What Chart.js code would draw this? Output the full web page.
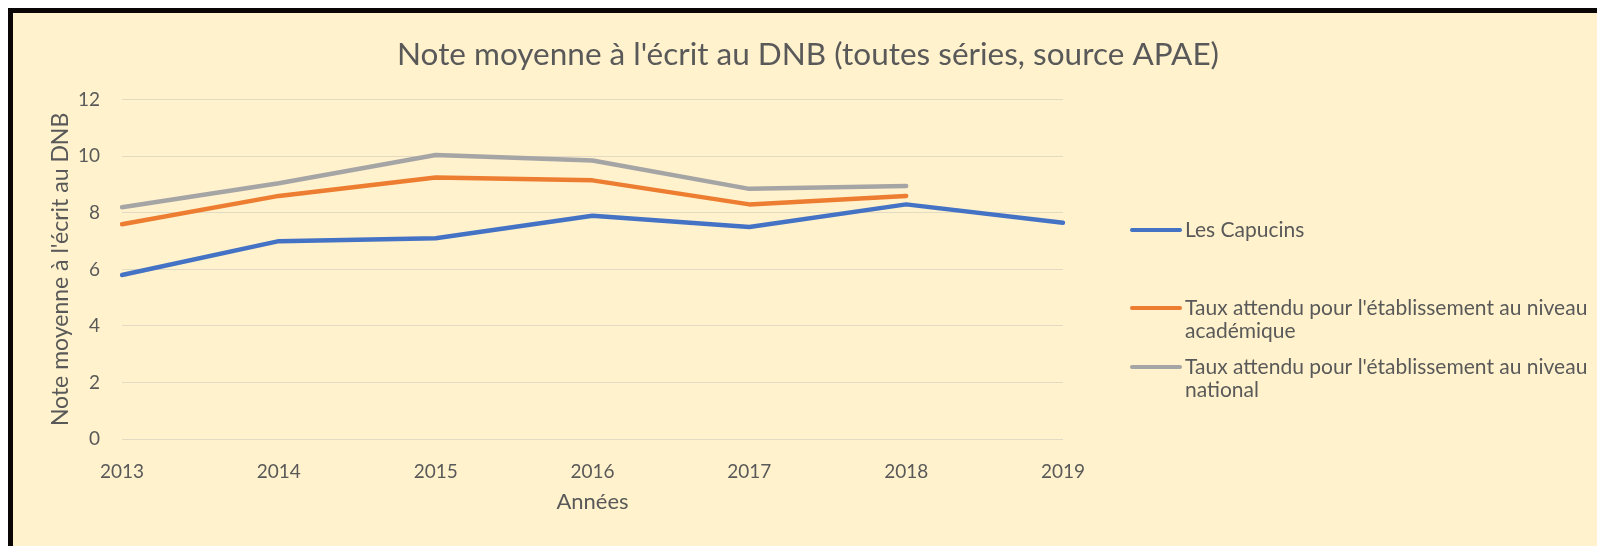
<!DOCTYPE html>
<html>
<head>
<meta charset="utf-8">
<script src="https://cdn.jsdelivr.net/npm/chart.js@4/dist/chart.umd.min.js"></script>
<style>
html, body { margin: 0; padding: 0; background: #fff; overflow: hidden; }
#frame {
    position: absolute; left: 8px; top: 8px;
    width: 1584px; height: 533px;
    border-top: 5px solid #0b0606; border-left: 5px solid #0b0606;
    background: #fff2cc;
    overflow: hidden;
}
canvas { display: block; }
</style>
</head>
<body>
<div id="frame"><canvas id="chart" width="1584" height="533"></canvas></div>
<script>
var years = ["2013", "2014", "2015", "2016", "2017", "2018", "2019"];
var capucins = [5.8, 7.0, 7.1, 7.9, 7.5, 8.3, 7.65];
var academique = [7.6, 8.6, 9.25, 9.15, 8.3, 8.6, null];
var national = [8.2, 9.05, 10.05, 9.85, 8.85, 8.95, null];
var yTicks = [0, 2, 4, 6, 8, 10, 12];

var textColor = '#595959';
Chart.defaults.font.family = 'Lato';
Chart.defaults.color = textColor;

// legend drawn at the right, with wrapped labels like the original
var sideLegend = {
    id: 'sideLegend',
    afterDraw: function(chart, args, opts) {
        var ctx = chart.ctx;
        var x0 = chart.chartArea.right + opts.gap;
        var tx = x0 + opts.lineLen + 5;
        var maxW = chart.width - tx;
        ctx.save();
        ctx.font = opts.size + 'px Lato';
        ctx.textBaseline = 'middle';
        ctx.fillStyle = textColor;
        chart.data.datasets.forEach(function(ds, i) {
            var y = opts.rows[i];
            ctx.strokeStyle = ds.borderColor;
            ctx.lineWidth = 4;
            ctx.lineCap = 'round';
            ctx.beginPath();
            ctx.moveTo(x0, y);
            ctx.lineTo(x0 + opts.lineLen, y);
            ctx.stroke();
            var words = ds.label.split(' ');
            var line = '';
            var lines = [];
            words.forEach(function(w) {
                var t = line ? line + ' ' + w : w;
                if (ctx.measureText(t).width > maxW && line) {
                    lines.push(line);
                    line = w;
                } else {
                    line = t;
                }
            });
            lines.push(line);
            lines.forEach(function(l, k) {
                ctx.fillText(l, tx, y + k * opts.lineGap);
            });
        });
        ctx.restore();
    }
};

var ctx = document.getElementById("chart");
var myChart = new Chart(ctx, {
    type: 'line',
    data: {
        labels: years,
        datasets: [{
            label: 'Les Capucins',
            data: capucins,
            borderColor: '#4472c4'
        }, {
            label: "Taux attendu pour l'établissement au niveau académique",
            data: academique,
            borderColor: '#ed7d31'
        }, {
            label: "Taux attendu pour l'établissement au niveau national",
            data: national,
            borderColor: '#a5a5a5'
        }]
    },
    options: {
        responsive: false,
        animation: false,
        layout: { padding: { left: 30, top: 9, right: 24, bottom: 0 } },
        elements: {
            line: { borderWidth: 4.5, tension: 0, borderCapStyle: 'round', borderJoinStyle: 'round' },
            point: { radius: 0, hoverRadius: 0 }
        },
        plugins: {
            legend: { display: false },
            tooltip: { enabled: false },
            title: {
                display: true,
                text: "Note moyenne à l'écrit au DNB (toutes séries, source APAE)",
                color: textColor,
                font: { size: 31.5, weight: 'normal' },
                padding: { top: 14, bottom: 26 }
            },
            sideLegend: { gap: 69, lineLen: 48, size: 21, lineGap: 23.5, rows: [217, 295, 354] }
        },
        scales: {
            x: {
                grid: { display: false },
                border: { display: false },
                ticks: { padding: 13, font: { size: 19 }, maxRotation: 0 },
                afterFit: function(scale) { scale.height = 107; },
                title: { display: true, text: 'Années', font: { size: 22 }, padding: { top: 4, bottom: 31 } }
            },
            y: {
                min: 0,
                max: 12,
                afterBuildTicks: function(scale) {
                    scale.ticks = yTicks.map(function(v) { return { value: v }; });
                },
                afterFit: function(scale) { scale.width = 79; },
                grid: { color: '#e2dac3', drawTicks: false },
                border: { display: false },
                ticks: { padding: 22, font: { size: 19 } },
                title: { display: true, text: "Note moyenne à l'écrit au DNB", font: { size: 23 }, padding: { top: 4, bottom: 4 } }
            },
            side: {
                type: 'linear',
                position: 'right',
                grid: { display: false },
                border: { display: false },
                ticks: { display: false },
                afterFit: function(scale) { scale.width = 510; }
            }
        }
    },
    plugins: [sideLegend]
});
</script>
</body>
</html>
